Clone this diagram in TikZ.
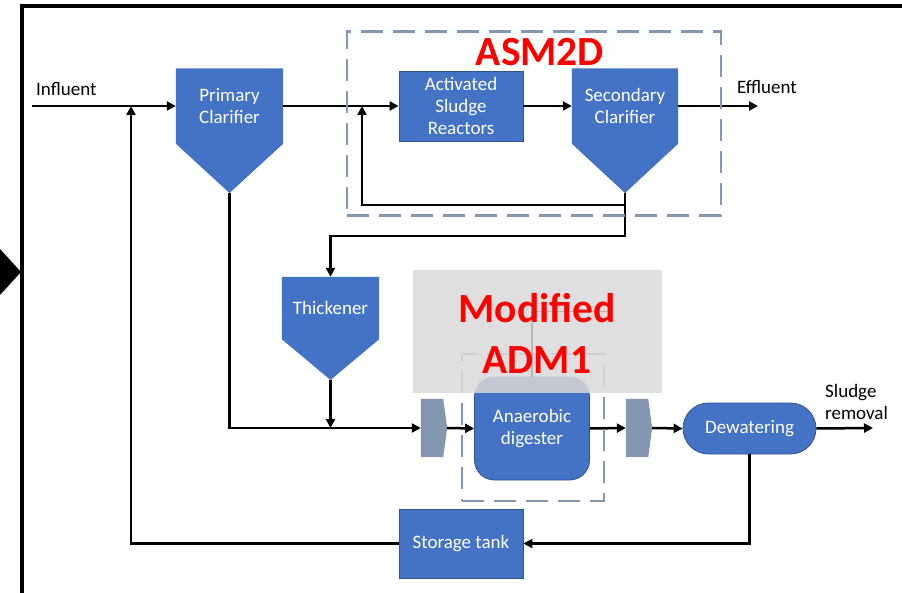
\documentclass[tikz,border=0pt]{standalone}
\usepackage{fontspec}
\setmainfont{Carlito}
\usetikzlibrary{arrows.meta,calc}
\pgfdeclarelayer{bg}
\pgfsetlayers{bg,main}
\definecolor{procblue}{HTML}{4472C4}
\definecolor{procedge}{HTML}{2F528F}
\definecolor{slate}{HTML}{8497B0}
\definecolor{veil}{HTML}{D9D9D9}
\definecolor{hot}{HTML}{FF0000}
\tikzset{
  txt/.style={font=\fontsize{19}{22}\selectfont, align=center, inner sep=0pt},
  proc/.style={txt, text=white, fill=procblue, draw=procedge, line width=0.8pt},
  clar/.style={txt, text=white},
  flow/.style={line width=2.5pt, -{Triangle[length=9pt,width=9pt]}},
  modelbox/.style={draw=slate, line width=2.6pt, dash pattern=on 22pt off 10pt},
  modeltitle/.style={text=hot, font=\bfseries\fontsize{41.5}{51}\selectfont, align=center, inner sep=0pt},
}
\begin{document}
\begin{tikzpicture}[x=1pt,y=-1pt]
\useasboundingbox (0,0) rectangle (902,593);

% outer frame and side marker
\draw[line width=3.2pt] (22,593) -- (22,6) -- (902,6);
\fill (0,249) -- (21,272) -- (0,295) -- cycle;

% clarifiers and thickener (rectangle body with a pointed hopper)
\node[clar, minimum width=107pt, minimum height=75pt] (pc) at (229.5,106) {Primary\\Clarifier};
\coordinate (pc-tip) at (229.5,193);
\node[clar, minimum width=106pt, minimum height=75pt] (sc) at (625,106) {Secondary\\Clarifier};
\coordinate (sc-tip) at (625,193);
\node[clar, minimum width=97pt, minimum height=62pt] (th) at (330.5,308) {Thickener};
\coordinate (th-tip) at (330.5,380);
\begin{pgfonlayer}{bg}
  \foreach \n in {pc,sc,th}
    \fill[procblue] (\n.north west) -- (\n.north east) -- (\n.south east)
      -- (\n-tip) -- (\n.south west) -- cycle;
\end{pgfonlayer}

% process units
\node[proc, minimum width=124pt, minimum height=70pt] (asr) at (461,106) {Activated\\Sludge\\Reactors};
\node[proc, minimum width=115pt, minimum height=103pt, rounded corners=20pt] (ad) at (532,428.5) {Anaerobic\\digester};
\node[proc, minimum width=133pt, minimum height=51pt, rounded corners=25.5pt] (dw) at (749.5,428.5) {Dewatering};
\node[proc, minimum width=124pt, minimum height=69pt] (st) at (461,543.5) {Storage tank};

% pumps
\node[minimum width=26pt, minimum height=58pt, inner sep=0pt] (g1) at (434,428) {};
\node[minimum width=26pt, minimum height=58pt, inner sep=0pt] (g2) at (639,428) {};
\begin{pgfonlayer}{bg}
  \foreach \n in {g1,g2}
    \fill[slate] (\n.north west) -- ([xshift=-4pt]\n.north east) -- (\n.east)
      -- ([xshift=-4pt]\n.south east) -- (\n.south west) -- cycle;
\end{pgfonlayer}

% stream labels and free ends
\node[txt, anchor=base west] (inlbl) at (36,96) {Influent};
\node[txt, anchor=base west] (eflbl) at (737,94) {Effluent};
\node[txt, anchor=west, align=left] (sllbl) at (825,402) {Sludge\\removal};
\coordinate (infl) at (32,106);
\coordinate (effl) at (758,106);
\coordinate (slout) at (873,428);
\coordinate (ras-j) at (362,106);
\coordinate (ret-j) at (131,106);
\coordinate (th-j) at (330.5,428);

% main line
\draw[flow] (infl) -- (pc.west);
\draw[flow] (pc.east) -- (asr.west);
\draw[flow] (asr.east) -- (sc.west);
\draw[flow] (sc.east) -- (effl);

% sludge recycle and wasting
\draw[flow] (sc-tip) -- ++(0,12) -| (ras-j);
\draw[flow] (sc-tip) -- ++(0,43) -| (th.north);
\draw[flow] (pc-tip) |- (g1.west);
\draw[flow] (th-tip) -- (th-j);

% sludge line
\draw[flow] (g1.east) -- (ad.west);
\draw[flow] (ad.east) -- (g2.west);
\draw[flow] (g2.east) -- (dw.west);
\draw[flow] (dw.east) -- (slout);
\draw[flow] (dw.south) |- (st.east);
\draw[flow] (st.west) -| (ret-j);

% ASM2D model boundary
\node[modelbox, minimum width=374pt, minimum height=184pt] (asmbox) at (534,123.5) {};
\node[modeltitle] (asmlbl) at (540,52) {ASM2D};

% ADM1 model boundary
\node[modelbox, minimum width=142pt, minimum height=147pt] (admbox) at (533,427.5) {};
\draw[line width=1.5pt] (ad.north) -- ++(0,-65) coordinate (gas) -- ++(76,0);

% translucent label panel
\node[fill=veil, fill opacity=0.85, minimum width=249pt, minimum height=123pt, inner sep=0pt] (veil) at (537.5,331.5) {};
\node[modeltitle] (admlbl) at (537,333) {Modified\\ADM1};
\end{tikzpicture}
\end{document}
